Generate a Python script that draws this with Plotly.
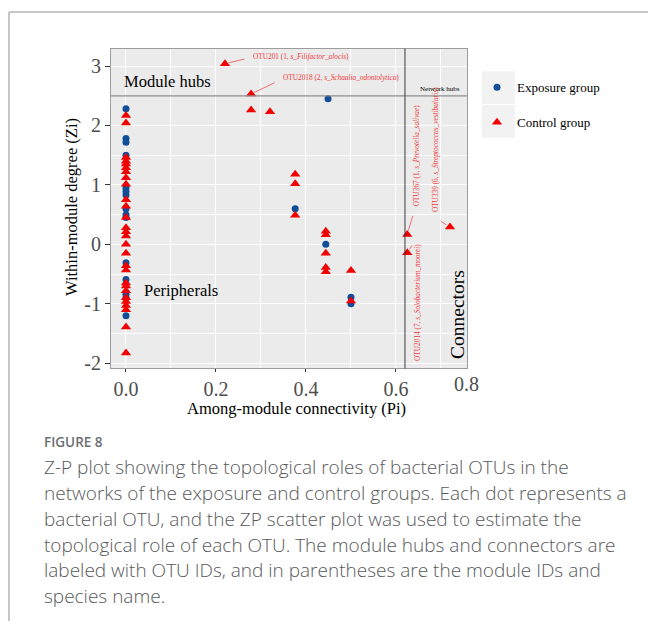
import plotly.graph_objects as go

W, H = 648, 627

# ---------------- data ----------------
exp_pi = [0, 0, 0, 0, 0, 0, 0, 0, 0, 0, 0, 0, 0, 0, 0,
          0.449, 0.376, 0.444, 0.5, 0.5]
exp_zi = [2.28, 1.78, 1.72, 1.50, 0.95, 0.89, 0.83, 0.60, 0.50, 0.45,
          -0.31, -0.59, -0.84, -0.90, -1.20,
          2.45, 0.60, 0.00, -0.89, -1.00]

ctl_pi = [0] * 28 + [0.22, 0.278, 0.278, 0.32, 0.376, 0.376, 0.376,
                     0.444, 0.444, 0.444, 0.444, 0.444, 0.5, 0.5,
                     0.625, 0.625, 0.72]
ctl_zi = [2.17, 2.04, 1.46, 1.40, 1.35, 1.29, 1.22, 1.12, 1.01, 0.75, 0.64,
          0.45, 0.28, 0.21, 0.14, 0.00, -0.15, -0.36, -0.43, -0.65, -0.70,
          -0.78, -0.90, -0.96, -1.03, -1.10, -1.39, -1.83,
          3.04, 2.53, 2.26, 2.23, 1.18, 1.02, 0.49,
          0.22, 0.16, -0.15, -0.39, -0.46, -0.44, -0.955,
          0.167, -0.14, 0.29]

# labelled control-group OTUs (index into the control arrays)
label_idx = [28, 29, 42, 43, 44]
label_txt = ["OTU201 (1, <i>s_Filifactor_alocis</i>)",
             "OTU2018 (2, <i>s_Schaalia_odontolytica</i>)",
             "OTU367 (1, <i>s_Prevotella_salivae</i>)",
             "OTU2014 (7, <i>s_Solobacterium_moorei</i>)",
             "OTU339 (6, <i>s_Streptococcus_vestibularis</i>)"]

zi_thr = 2.5
pi_thr = 0.62

x_ticks = [0, 0.2, 0.4, 0.6]
x_ticktext = ["0.0", "0.2", "0.4", "0.6"]
y_ticks = [-2, -1, 0, 1, 2, 3]
y_ticktext = ["-2", "-1", "0", "1", "2", "3"]

caption_title = "FIGURE 8"
caption_lines = [
    "Z-P plot showing the topological roles of bacterial OTUs in the",
    "networks of the exposure and control groups. Each dot represents a",
    "bacterial OTU, and the ZP scatter plot was used to estimate the",
    "topological role of each OTU. The module hubs and connectors are",
    "labeled with OTU IDs, and in parentheses are the module IDs and",
    "species name.",
]

# ---------------- style / placement (pixel offsets from the point) ----------------
lead_dx = [21, 25, 6, 6, -11]
lead_dy = [-5, -12, -20, -9, -7]
text_dx = [26, 30, 9.5, 10, -15]
text_dy = [-7, -16.5, -79, 50, -78]
text_anchor = ["left", "left", "center", "center", "center"]
text_angle = [0, 0, -90, -90, -90]

BLUE = "#124E98"
RED = "#F00000"
LRED = "#F03A3A"
SERIF = "Liberation Serif"
SANS = "Open Sans"


def px(x):
    return x / W


def py(y):
    return 1 - y / H


L, R, T, B = 111, 467, 49, 372
x_range = [-0.0333, 0.7578]
y_range = [-2.088, 3.295]

fig = go.Figure()
fig.add_trace(go.Scatter(x=exp_pi, y=exp_zi, mode="markers", name="Exposure group",
                         legendgroup="e",
                         marker=dict(symbol="circle", size=7, color=BLUE)))
fig.add_trace(go.Scatter(x=ctl_pi, y=ctl_zi, mode="markers", name="Control group",
                         legendgroup="c",
                         marker=dict(symbol="triangle-up", size=9, color=RED)))

ann = []
for k, i in enumerate(label_idx):
    # leader segment
    ann.append(dict(x=ctl_pi[i], y=ctl_zi[i], xref="x", yref="y", text="",
                    showarrow=True, arrowhead=0, arrowwidth=0.7, arrowcolor=LRED,
                    ax=lead_dx[k], ay=lead_dy[k], standoff=4))
    # label text
    ann.append(dict(x=ctl_pi[i], y=ctl_zi[i], xref="x", yref="y", text=label_txt[k],
                    showarrow=False, xshift=text_dx[k], yshift=-text_dy[k],
                    xanchor=text_anchor[k], yanchor="middle", textangle=text_angle[k],
                    font=dict(family=SERIF, size=7.3, color=LRED)))


def txt(x, y, s, size, color="black", xanchor="center", angle=0, family=SERIF, weight=None):
    f = dict(family=family, size=size, color=color)
    if weight:
        f["weight"] = weight
    ann.append(dict(x=px(x), y=py(y), xref="paper", yref="paper", text=s,
                    showarrow=False, xanchor=xanchor, yanchor="middle",
                    textangle=angle, font=f))


txt(122, 82, "Module hubs", 16.5, xanchor="left")
txt(142, 293, "Peripherals", 16.5, xanchor="left")
txt(458, 318, "Connectors", 19.5, angle=-90)
txt(439.5, 90, "Network hubs", 7)
txt(296, 412, "Among-module connectivity (Pi)", 16.5)
txt(72, 209, "Within-module degree (Zi)", 16.5, angle=-90)
txt(466, 388, "0.8", 20, color="#4D4D4D")

txt(42, 446, caption_title, 13.5, color="#6D6E71", xanchor="left", family=SANS, weight=600)
for k, line in enumerate(caption_lines):
    txt(42, 472 + 26 * k, line, 19, color="#58595B", xanchor="left", family=SANS, weight=300)

shapes = [
    # reference lines
    dict(type="line", xref="paper", yref="y", x0=px(L), x1=px(R), y0=zi_thr, y1=zi_thr,
         line=dict(color="#8A8A8A", width=1.2)),
    dict(type="line", xref="x", yref="paper", x0=pi_thr, x1=pi_thr, y0=py(B), y1=py(T),
         line=dict(color="#3A3A3A", width=1)),
    # legend key backgrounds
    dict(type="rect", xref="paper", yref="paper", x0=px(482), x1=px(515), y0=py(72), y1=py(105),
         fillcolor="#F2F2F2", line=dict(width=0), layer="below"),
    dict(type="rect", xref="paper", yref="paper", x0=px(482), x1=px(515), y0=py(106), y1=py(139),
         fillcolor="#F2F2F2", line=dict(width=0), layer="below"),
    # page frame
    dict(type="line", xref="paper", yref="paper", x0=px(9), x1=1, y0=py(12), y1=py(12),
         line=dict(color="#B4B4B4", width=1.5)),
    dict(type="line", xref="paper", yref="paper", x0=px(9), x1=px(9), y0=py(12), y1=0,
         line=dict(color="#B4B4B4", width=1.5)),
]

fig.update_layout(
    width=W, height=H, margin=dict(l=0, r=0, t=0, b=0),
    paper_bgcolor="white", plot_bgcolor="#EBEBEB",
    showlegend=True,
    legend=dict(x=px(477), y=py(73), xanchor="left", yanchor="top",
                font=dict(family=SERIF, size=13, color="black"),
                bgcolor="rgba(0,0,0,0)", tracegroupgap=15, traceorder="grouped"),
    annotations=ann, shapes=shapes,
    xaxis=dict(domain=[px(L), px(R)], range=x_range, tickvals=x_ticks, ticktext=x_ticktext,
               ticks="outside", ticklen=3, tickcolor="#333333",
               tickfont=dict(family=SERIF, size=20, color="#4D4D4D"),
               showgrid=True, gridcolor="white", gridwidth=1.2, zeroline=False,
               minor=dict(tickvals=[0.1, 0.3, 0.5, 0.7], showgrid=True, gridcolor="white",
                          gridwidth=0.6, ticks=""),
               showline=True, mirror=True, linecolor="#9C9C9C", linewidth=1),
    yaxis=dict(domain=[py(B), py(T)], range=y_range, tickvals=y_ticks, ticktext=y_ticktext,
               ticks="outside", ticklen=5, tickcolor="#333333",
               tickfont=dict(family=SERIF, size=20, color="#4D4D4D"),
               showgrid=True, gridcolor="white", gridwidth=1.2, zeroline=False,
               minor=dict(tickvals=[-1.5, -0.5, 0.5, 1.5, 2.5], showgrid=True,
                          gridcolor="white", gridwidth=0.6, ticks=""),
               showline=True, mirror=True, linecolor="#9C9C9C", linewidth=1),
)

fig.write_html("out.html")
